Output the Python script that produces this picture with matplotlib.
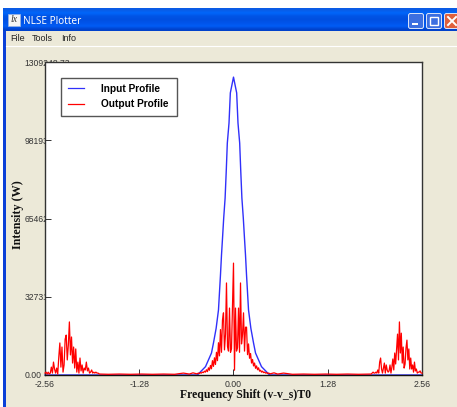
import numpy as np
import matplotlib
matplotlib.use("Agg")
import matplotlib.pyplot as plt
from matplotlib.patches import Rectangle, FancyBboxPatch

# ---------- data (frequency shift, watts / kilowatts) ----------
y_top = 1309248.73
x_ticks = [-2.56, -1.28, 0.00, 1.28, 2.56]
x_tick_labels = ["-2.56", "-1.28", "0.00", "1.28", "2.56"]
y_ticks = [0.0, 327312.18, 654624.36, 981936.55, 1309248.73]
y_tick_labels = ["0.00", "327312.18", "654624.36", "981936.55", "1309248.73"]

input_half_width = [0.0, 0.043, 0.061, 0.084, 0.098, 0.114, 0.133, 0.149, 0.163,
                    0.177, 0.204, 0.236, 0.272, 0.299, 0.38, 0.49]
input_kw = [1246, 1180, 1054, 970, 857, 740, 657, 573, 502, 418, 272, 195, 134, 92, 35, 0]

left_lobe_kw = [8, 12, 4, 12, 4, 8, 33, 8, 54, 25, 8, 29, 4, 75, 134, 33, 117, 12, 42, 150,
                167, 63, 125, 222, 84, 159, 50, 117, 29, 109, 12, 54, 8, 71, 17, 42, 8, 29,
                21, 54, 17, 29, 8, 12, 21, 8, 12, 8, 12, 8, 8]
floor_left_x = [-1.82, -1.7, -1.55, -1.4, -1.25, -1.1, -0.95, -0.8, -0.68, -0.6, -0.55, -0.5]
floor_left_kw = [4, 3, 4, 3, 4, 3, 4, 3, 8, 4, 9, 5]
centre_kw = [6, 8, 6, 10, 8, 12, 10, 16, 12, 22, 14, 30, 20, 40, 26, 60, 36, 72, 44, 95, 60,
             135, 80, 190, 95, 230, 260, 105, 170, 385, 120, 100, 280, 95, 110, 280, 468,
             20, 280, 100, 115, 280, 95, 385, 130, 170, 260, 100, 200, 200, 85, 130, 70, 90,
             50, 65, 38, 50, 28, 38, 22, 30, 16, 20, 12, 16, 10, 12, 8, 10, 6, 8, 6]
floor_right_x = [0.5, 0.55, 0.6, 0.68, 0.8, 0.95, 1.1, 1.25, 1.4, 1.55, 1.7, 1.85]
floor_right_kw = [5, 9, 4, 8, 3, 4, 3, 4, 3, 4, 3, 4]
right_lobe_kw = [4, 8, 12, 8, 8, 12, 8, 21, 8, 54, 71, 25, 8, 29, 50, 8, 42, 21, 12, 17, 42,
                 8, 33, 67, 21, 92, 46, 109, 171, 63, 222, 92, 175, 50, 117, 29, 46, 113,
                 146, 63, 109, 25, 71, 25, 42, 12, 54, 17, 25, 8, 12, 12, 17, 8, 8]

# ---------- assemble series ----------
input_x = np.concatenate([[-2.56], -np.array(input_half_width[::-1]),
                          np.array(input_half_width[1:]), [2.56]])
input_y = np.concatenate([[0], np.array(input_kw[::-1]), np.array(input_kw[1:]), [0]]) * 1e3
output_x = np.concatenate([np.linspace(-2.56, -1.84, len(left_lobe_kw)), floor_left_x,
                           np.linspace(-0.49, 0.49, len(centre_kw)), floor_right_x,
                           np.linspace(1.87, 2.56, len(right_lobe_kw))])
output_y = np.array(left_lobe_kw + floor_left_kw + centre_kw + floor_right_kw + right_lobe_kw) * 1e3

W, H = 457, 407
plt.rcParams["font.family"] = ["Liberation Sans", "DejaVu Sans"]
fig = plt.figure(figsize=(W / 100, H / 100), dpi=100, facecolor="white")

# ---------- window chrome, in pixels ----------
ch = fig.add_axes([0, 0, 1, 1], zorder=0)
ch.set_xlim(0, W)
ch.set_ylim(H, 0)
ch.axis("off")
ch.add_patch(Rectangle((3, 8), W, H, fc="#ECE9D8", ec="none"))
ch.add_patch(Rectangle((3, 8), 3, H, fc="#0A3FD8", ec="none"))
grad = np.array([[0.04, 0.36, 0.90], [0.00, 0.40, 0.98], [0.00, 0.33, 0.90], [0.00, 0.31, 0.88],
                 [0.00, 0.33, 0.92], [0.00, 0.36, 0.96], [0.00, 0.26, 0.80]])[:, None, :]
ch.imshow(grad, extent=(3, W, 31, 8), aspect="auto", interpolation="bilinear", zorder=1)
ch.set_xlim(0, W)
ch.set_ylim(H, 0)
ch.plot([6, W], [46, 46], color="white", lw=0.8, zorder=2)
ch.add_patch(Rectangle((8, 14), 12, 12, fc="#F4F4F4", ec="#9CB4E0", lw=0.5, zorder=2))
ch.text(14, 20, "lx", color="#333333", fontsize=7, style="italic", ha="center", va="center", zorder=3,
        family=["Liberation Serif"])
ch.text(23, 21.5, "NLSE Plotter", color="white", fontsize=7.2, fontweight="bold",
        ha="left", va="center", zorder=3, family=["Noto Sans"])
for x, label in zip([10, 32, 61], ["File", "Tools", "Info"]):
    ch.text(x, 38.5, label, color="#222222", fontsize=6.5, ha="left", va="center", zorder=3)
for x0, x1, col in [(408, 424, "#3C6FE0"), (426, 442, "#3C6FE0"), (444, 460, "#E0603C")]:
    ch.add_patch(FancyBboxPatch((x0 + 1, 14), x1 - x0 - 2, 14, boxstyle="round,pad=0.5,rounding_size=2",
                                fc=col, ec="#DDE6FA", lw=0.7, zorder=2))
ch.add_patch(Rectangle((412, 22.5), 6, 2.2, fc="white", ec="none", zorder=3))
ch.add_patch(Rectangle((430, 17), 8, 8, fc="none", ec="white", lw=1, zorder=3))
ch.plot([448, 456], [17, 25], color="white", lw=1.4, zorder=3)
ch.plot([448, 456], [25, 17], color="white", lw=1.4, zorder=3)

# ---------- plot axes ----------
L, R, T, B = 45, 422, 62, 375
rect = [L / W, 1 - B / H, (R - L) / W, (B - T) / H]

# y tick labels sit under the white panel, which cuts them off as in the window
under = fig.add_axes(rect, zorder=1, facecolor="none")
under.set_xlim(-2.56, 2.56)
under.set_ylim(0, y_top)
under.set_frame_on(False)
under.set_xticks([])
under.set_yticks(y_ticks, y_tick_labels, ha="left", fontsize=6.2, color="#333333")
under.tick_params(axis="y", length=0, pad=14.6)

ax = fig.add_axes(rect, zorder=2, facecolor="white")
ax.set_xlim(-2.56, 2.56)
ax.set_ylim(0, y_top)
ax.plot(input_x, input_y, color="#3030FA", lw=1.0, label="Input Profile", zorder=2, clip_on=False)
ax.plot(output_x, output_y, color="#FF0000", lw=0.9, label="Output Profile", zorder=3, clip_on=False)
ax.set_xticks(x_ticks, x_tick_labels, fontsize=6.3, color="#333333")
ax.set_yticks(y_ticks, [""] * len(y_ticks))
ax.tick_params(direction="in", length=4.2, width=0.7, color="#333333", pad=3.6)
for s in ax.spines.values():
    s.set_color("#333333")
    s.set_linewidth(1.0)
ax.spines["bottom"].set_color("#111111")

serif = ["Liberation Serif", "DejaVu Serif"]
ch.text(246, 395, "Frequency Shift (v-v_s)T0", fontsize=8.5, fontweight="bold", color="#111111",
        family=serif, ha="center", va="center", zorder=3)
ch.text(17.5, 215, "Intensity (W)", fontsize=8.7, fontweight="bold", color="#111111",
        family=serif, ha="center", va="center", rotation=90, zorder=3)

# legend box, drawn in axes fractions, with the legend's own entries on top
ax.add_patch(Rectangle(((61 - L) / (R - L), 1 - (116 - T) / (B - T)), 116 / (R - L), 38 / (B - T),
                       transform=ax.transAxes, fc="white", ec="#555555", lw=1.0, zorder=4))
leg = ax.legend(loc="upper left", bbox_to_anchor=((62 - L) / (R - L), 1 - (77.5 - T) / (B - T)),
                borderaxespad=0, frameon=False,
                prop=dict(family="Liberation Sans", weight="bold", size=7.3),
                handlelength=1.55, handletextpad=1.65, borderpad=0.62, labelspacing=0.56)
leg.set_zorder(5)
for h in leg.get_lines():
    h.set_linewidth(0.9)

fig.savefig("out.png", dpi=100, facecolor="white")
